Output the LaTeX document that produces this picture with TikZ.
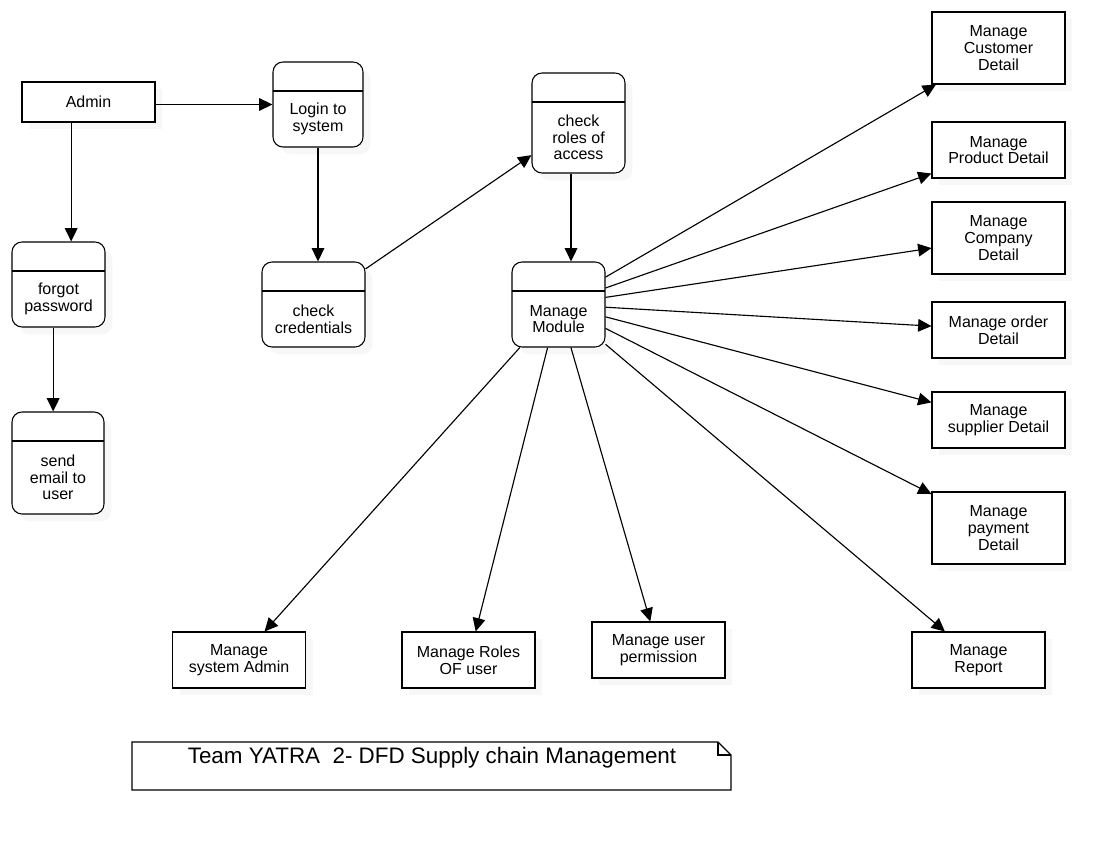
\documentclass[tikz,border=0pt]{standalone}
\usepackage{fontspec}
\setmainfont{Liberation Sans}
\usetikzlibrary{arrows.meta,shadows}

\newcommand{\boxfont}{\fontsize{12}{12.5}\selectfont}
\newcommand{\titlefont}{\fontsize{16.8}{18}\selectfont}

\tikzset{
    softshadow/.style={drop shadow={shadow xshift=5.5pt, shadow yshift=-5.5pt, fill=black!6}},
    entity/.style={draw, fill=white, line width=0.8pt, minimum width=99.75pt,
        align=center, font=\boxfont, inner sep=2pt, softshadow},
    proc/.style={draw, fill=white, line width=0.8pt, rounded corners=7.5pt, softshadow,
        path picture={\draw[line width=0.8pt]
            ([yshift=-21.75pt]path picture bounding box.north west) --
            ([yshift=-21.75pt]path picture bounding box.north east);}},
    proctext/.style={align=center, font=\boxfont, yshift=-10.9pt},
    flow/.style={line width=0.85pt, -{Triangle[length=10pt,width=9.5pt]}}
}

\begin{document}
\begin{tikzpicture}[x=0.75pt,y=-0.75pt]
        \useasboundingbox (0,0) rectangle (1115,842);
        % external entity
        \node[entity, minimum height=30pt] (admin) at (88.5,102) {Admin};
        % processes
        \node[proc, minimum width=67.5pt, minimum height=63.75pt,
            label={[proctext]center:Login to\\system}] (login) at (318,104.5) {};
        \node[proc, minimum width=77.25pt, minimum height=63.75pt,
            label={[proctext]center:check\\credentials}] (cred) at (313.5,304.5) {};
        \node[proc, minimum width=69.75pt, minimum height=63.75pt,
            label={[proctext]center:forgot\\password}] (forgot) at (58.5,284.5) {};
        \node[proc, minimum width=69pt, minimum height=76.5pt,
            label={[proctext]center:send\\email to\\user}] (email) at (58,463) {};
        \node[proc, minimum width=69.75pt, minimum height=75pt,
            label={[proctext]center:check\\roles of\\access}] (roles) at (578.5,123) {};
        \node[proc, minimum width=69.75pt, minimum height=63.75pt,
            label={[proctext]center:Manage\\Module}] (module) at (558.5,304.5) {};
        % managed details
        \node[entity, minimum height=54pt] (cust) at (998.5,48) {Manage\\Customer\\Detail};
        \node[entity, minimum height=42pt] (prod) at (998.5,150) {Manage\\Product Detail};
        \node[entity, minimum height=54pt] (comp) at (998.5,238) {Manage\\Company\\Detail};
        \node[entity, minimum height=42pt] (order) at (998.5,330) {Manage order\\Detail};
        \node[entity, minimum height=42pt] (supp) at (998.5,420) {Manage\\supplier Detail};
        \node[entity, minimum height=54pt] (pay) at (998.5,528) {Manage\\payment\\Detail};
        \node[entity, minimum height=42pt] (report) at (978.5,660) {Manage\\Report};
        \node[entity, minimum height=42pt] (sysadm) at (239,660) {Manage\\system Admin};
        \node[entity, minimum height=42pt] (rolesU) at (468.5,660) {Manage Roles\\OF user};
        \node[entity, minimum height=42pt] (perm) at (658.5,650) {Manage user\\permission};
        % flows
        \draw[flow] (admin.east |- login.west) -- (login.west);
        \draw[flow] ([xshift=-13pt]admin.south) -- ([xshift=-13pt]admin.south |- forgot.north);
        \draw[flow] ([xshift=-4pt]forgot.south) -- ([xshift=-4pt]forgot.south |- email.north);
        \draw[flow] (login.south) -- (login.south |- cred.north);
        \draw[flow] (cred) -- (roles);
        \draw[flow] ([xshift=-5.6pt]roles.south) -- ([xshift=-5.6pt]roles.south |- module.north);
        \foreach \t in {cust,prod,comp,order,supp,pay,report,sysadm,rolesU,perm} {
            \draw[flow] (module) -- (\t);
        }
        % title note
        \draw[line width=0.8pt] (132,742) -- (718,742) -- (731,755) -- (731,790) -- (132,790) -- cycle;
        \draw[line width=0.8pt] (718,742) -- (718,755) -- (731,755);
        \node[font=\titlefont] (title) at (432,758) {Team YATRA\ \ 2- DFD Supply chain Management};
\end{tikzpicture}
\end{document}
